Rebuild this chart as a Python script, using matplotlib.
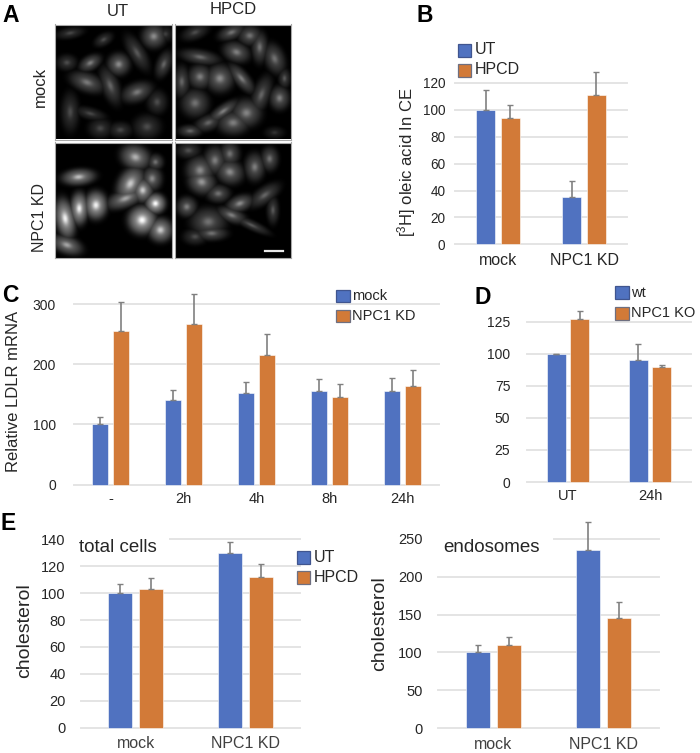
import numpy as np
import matplotlib
matplotlib.use("Agg")
import matplotlib.pyplot as plt
from matplotlib.patches import Rectangle

plt.rcParams['font.family'] = ['Liberation Sans', 'DejaVu Sans']
plt.rcParams['mathtext.default'] = 'regular'

W, H = 700, 753
BLUE, ORANGE = '#5072c0', '#d27a38'
GRID, ERR, INK = '#e4e4e4', '#808080', '#262626'

# ---- data -------------------------------------------------------------
b_groups = ['mock', 'NPC1 KD']
b_ut = [100, 35]
b_ut_top = [115, 47]
b_hpcd = [94, 111]
b_hpcd_top = [104, 128]
b_ticks = [0, 20, 40, 60, 80, 100, 120]

c_groups = ['-', '2h', '4h', '8h', '24h']
c_mock = [100, 140, 152, 155, 155]
c_mock_top = [112, 157, 170, 176, 177]
c_kd = [255, 266, 215, 145, 164]
c_kd_top = [304, 317, 251, 168, 190]
c_ticks = [0, 100, 200, 300]

d_groups = ['UT', '24h']
d_wt = [100, 95]
d_wt_top = [100, 108]
d_ko = [127, 90]
d_ko_top = [133, 91]
d_ticks = [0, 25, 50, 75, 100, 125]

e1_groups = ['mock', 'NPC1 KD']
e1_ut = [100, 130]
e1_ut_top = [107, 138]
e1_hpcd = [103, 112]
e1_hpcd_top = [111, 122]
e1_ticks = [0, 20, 40, 60, 80, 100, 120, 140]

e2_groups = ['mock', 'NPC1 KD']
e2_ut = [100, 235]
e2_ut_top = [110, 272]
e2_hpcd = [110, 146]
e2_hpcd_top = [121, 167]
e2_ticks = [0, 50, 100, 150, 200, 250]

# Micrograph cells estimated by eye: x, y, half-length, half-width, angle, brightness
cells_ut_mock = [(45,27,35,14,-10,.28),(105,118,30,18,-30,.5),(190,122,28,28,0,.55),(95,177,45,24,20,.48),
                 (165,187,22,50,-20,.4),(245,207,40,24,-20,.48),(45,267,22,50,0,.3),(105,272,40,15,15,.28),
                 (135,317,30,25,0,.28),(195,322,30,20,0,.28),(275,312,35,30,0,.3),(295,37,30,30,0,.55),
                 (245,87,20,50,-30,.35),(325,122,18,35,20,.4),(305,237,25,30,0,.3),(35,117,25,20,0,.3),
                 (145,47,25,15,-30,.3),(330,30,20,20,0,.25)]
cells_hpcd_mock = [(60,25,35,18,-20,.3),(170,25,35,18,-20,.45),(225,35,30,25,0,.45),(75,100,50,18,10,.42),
                   (185,85,35,25,20,.5),(255,70,20,40,0,.45),(300,105,25,40,-20,.45),(20,175,20,40,0,.4),
                   (75,160,30,30,0,.5),(135,165,35,35,0,.55),(200,165,18,45,-40,.5),(260,215,22,50,20,.4),
                   (330,165,15,25,0,.35),(315,225,25,30,0,.5),(60,240,35,35,0,.45),(145,265,45,16,-35,.5),
                   (215,270,38,35,0,.52),(100,300,35,20,-20,.4),(175,300,40,30,0,.5),(45,325,30,15,0,.4),
                   (300,330,25,15,0,.2)]
cells_ut_kd = [(70,105,42,20,-5,.75),(240,45,38,30,20,.7),(225,125,30,45,30,.8),(262,145,25,30,0,.8),
               (210,170,50,22,-20,.65),(300,185,25,25,0,1.0),(30,230,24,50,-10,.95),(72,200,22,40,0,.95),
               (122,190,28,35,0,.95),(260,235,35,35,0,1.0),(315,265,30,30,0,.8),(35,310,40,22,20,.65),
               (290,110,25,30,0,.55),(300,60,20,20,0,.45)]
cells_hpcd_kd = [(40,25,30,20,0,.32),(75,85,35,35,0,.55),(120,55,28,35,0,.5),(165,35,25,30,0,.45),
                 (165,90,35,30,20,.55),(240,75,25,35,0,.5),(285,50,22,30,0,.45),(80,120,35,30,20,.6),
                 (130,155,30,22,0,.45),(195,185,35,20,-20,.55),(270,160,45,20,-35,.4),(295,205,15,35,0,.35),
                 (35,195,25,25,0,.5),(100,240,45,35,0,.45),(170,220,38,18,20,.5),(230,250,50,12,25,.35),
                 (60,285,30,20,0,.3),(110,275,40,18,0,.45)]


def fx(x):
    return x / W


def fy(y):
    return 1 - y / H


def axes_px(x0, y_top, x1, y_bottom):
    return fig.add_axes([fx(x0), fy(y_bottom), fx(x1) - fx(x0), fy(y_top) - fy(y_bottom)])


def put(x, y, s, size, ha='left', rot=0, weight='normal', color=INK):
    fig.text(fx(x), fy(y), s, fontsize=size, ha=ha, va='center', rotation=rot,
             weight=weight, color=color, rotation_mode='anchor' if rot == 0 else 'default')


def swatch(x0, y0, x1, y1, color, edge):
    fig.add_artist(Rectangle((fx(x0), fy(y1)), fx(x1) - fx(x0), fy(y0) - fy(y1), transform=fig.transFigure,
                             facecolor=color, edgecolor=edge, linewidth=0.9))


def bars(ax, a, a_top, b, b_top, groups, ticks, ylim, width, offset, tick_size, x_size, pad,
         x_pad, x_color=INK, top_from=0.0):
    x = np.arange(len(groups))
    for v, lo in zip(ticks, [0.0] * (len(ticks) - 1) + [top_from]):
        ax.axhline(v, xmin=lo, color=GRID, lw=1.4, zorder=1, clip_on=False)
    for vals, tops, col, sign in ((a, a_top, BLUE, -1), (b, b_top, ORANGE, 1)):
        pos = x + sign * offset
        ax.bar(pos, vals, width, color=col, edgecolor='#ffffff', linewidth=0.4, zorder=2, clip_on=False)
        ax.errorbar(pos, vals, yerr=[np.zeros(len(vals)), np.array(tops) - np.array(vals)], fmt='none',
                    ecolor=ERR, elinewidth=1.2, capsize=2.2, capthick=1.0, zorder=3, clip_on=False)
    ax.set_xlim(-0.5, len(groups) - 0.5)
    ax.set_ylim(*ylim)
    ax.set_xticks(x, groups)
    ax.set_yticks(ticks)
    ax.tick_params(axis='y', length=0, labelsize=tick_size, pad=pad, labelcolor=INK)
    ax.tick_params(axis='x', length=0, labelsize=x_size, pad=x_pad, labelcolor=x_color)
    for s in ax.spines.values():
        s.set_visible(False)
    ax.set_facecolor('none')


def micrograph(box, cells, scale_bar=False):
    ax = axes_px(*box)
    n = 350
    yy, xx = np.mgrid[0:n, 0:n]
    img = np.zeros((n, n))
    for cx, cy, a, b, ang, v in cells:
        t = np.deg2rad(ang)
        u = (xx - cx) * np.cos(t) + (yy - cy) * np.sin(t)
        w = -(xx - cx) * np.sin(t) + (yy - cy) * np.cos(t)
        r2 = (u / (1.2 * a)) ** 2 + (w / (1.2 * b)) ** 2
        body = 0.5 * v * np.exp(-r2 ** 1.8)
        core = v * np.exp(-r2 / 0.10)
        img = np.maximum(img, body + 0.5 * core)
    ax.imshow(np.clip(img, 0, 1), cmap='gray', vmin=0, vmax=1, interpolation='bilinear', aspect='auto')
    ax.set_xticks([])
    ax.set_yticks([])
    for s in ax.spines.values():
        s.set_color('#a8a8a8')
        s.set_linewidth(0.8)
    if scale_bar:
        ax.plot([0.775, 0.93], [0.057, 0.057], color='#e8e8e8', lw=1.6, transform=ax.transAxes)


fig = plt.figure(figsize=(W / 100, H / 100), dpi=100, facecolor='white')

# ---- A ---------------------------------------------------------------
micrograph((55, 24.5, 172, 139.5), cells_ut_mock)
micrograph((175, 24.5, 291, 139.5), cells_hpcd_mock)
micrograph((55, 142.5, 172, 258), cells_ut_kd)
micrograph((175, 142.5, 291, 258), cells_hpcd_kd, scale_bar=True)
put(118, 11, 'UT', 12, ha='center')
put(233, 10, 'HPCD', 12, ha='center')
put(40, 87, 'mock', 12, ha='center', rot=90)
put(39, 217, 'NPC1 KD', 11.5, ha='center', rot=90)
put(2, 16, 'A', 16.5, weight='bold', color='black')

# ---- B ---------------------------------------------------------------
ax = axes_px(455, 83, 627, 244.3)
bars(ax, b_ut, b_ut_top, b_hpcd, b_hpcd_top, b_groups, b_ticks, (0, 120), 0.22, 0.143, 9.8, 11.5, 7, 6)
put(407, 162, '[$^{3}$H] oleic acid In CE', 12, ha='center', rot=90)
swatch(458, 44, 471, 57, BLUE, '#40558f')
swatch(458, 63.5, 471, 76.5, ORANGE, '#6e6f80')
put(475, 50, 'UT', 11.5)
put(475, 70, 'HPCD', 11.5)
put(416, 16, 'B', 16.5, weight='bold', color='black')

# ---- C ---------------------------------------------------------------
ax = axes_px(74, 304, 439, 484.7)
bars(ax, c_mock, c_mock_top, c_kd, c_kd_top, c_groups, c_ticks, (0, 300), 0.22, 0.14, 10, 10.5, 13, 5)
put(14, 391, 'Relative LDLR mRNA', 12, ha='center', rot=90)
swatch(336, 289.5, 350, 302, BLUE, '#40558f')
swatch(336, 310, 350, 322, ORANGE, '#6e6f80')
put(352, 296, 'mock', 10.5)
put(352, 316, 'NPC1 KD', 10.5)
put(2, 296, 'C', 16.5, weight='bold', color='black')

# ---- D ---------------------------------------------------------------
ax = axes_px(527, 321.7, 691, 482)
bars(ax, d_wt, d_wt_top, d_ko, d_ko_top, d_groups, d_ticks, (0, 125), 0.232, 0.143, 10, 10.5, 12, 5)
swatch(615, 286, 628.5, 299, BLUE, '#40558f')
swatch(615, 307, 628.5, 320, ORANGE, '#6e6f80')
put(631, 293, 'wt', 10.5)
put(631, 313, 'NPC1 KO', 10.5)
put(474, 297, 'D', 16.5, weight='bold', color='black')

# ---- E ---------------------------------------------------------------
ax = axes_px(81, 539.3, 300, 727.7)
bars(ax, e1_ut, e1_ut_top, e1_hpcd, e1_hpcd_top, e1_groups, e1_ticks, (0, 140), 0.22, 0.14, 10.5, 11.5, 11, 6,
     x_color='#404040', top_from=0.406)
put(24.5, 631, 'cholesterol', 14, ha='center', rot=90)
put(79, 548, 'total cells', 13.5)
swatch(297, 551, 310, 564, BLUE, '#40558f')
swatch(297, 571, 310, 584, ORANGE, '#6e6f80')
put(314, 558, 'UT', 11.5)
put(314, 577, 'HPCD', 11.5)
put(1, 523, 'E', 16.5, weight='bold', color='black')

ax = axes_px(438, 538.7, 659, 728.3)
bars(ax, e2_ut, e2_ut_top, e2_hpcd, e2_hpcd_top, e2_groups, e2_ticks, (0, 250), 0.22, 0.14, 10.5, 11.5, 11, 6,
     x_color='#404040', top_from=0.525)
put(379.5, 624, 'cholesterol', 14, ha='center', rot=90)
put(443, 548, 'endosomes', 13.5)

fig.savefig('out.png', dpi=100, facecolor='white')
